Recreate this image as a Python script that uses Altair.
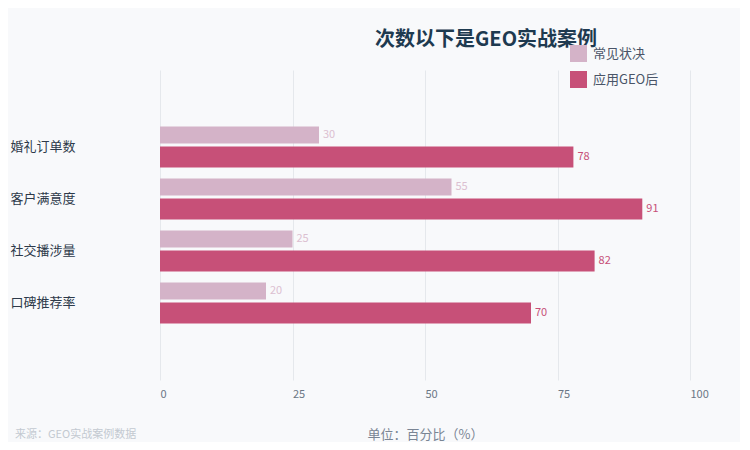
import altair as alt
import pandas as pd

categories = ["婚礼订单数", "客户满意度", "社交播涉量", "口碑推荐率"]
series_names = ["常见状决", "应用GEO后"]
common_values = [30, 55, 25, 20]
geo_values = [78, 91, 82, 70]
x_ticks = [0, 25, 50, 75, 100]
title_text = "次数以下是GEO实战案例"
axis_title = "单位：百分比（%）"
source_text = "来源：GEO实战案例数据"

rows = []
for c, a, b in zip(categories, common_values, geo_values):
    rows.append({"类别": c, "系列": series_names[0], "数值": a})
    rows.append({"类别": c, "系列": series_names[1], "数值": b})
df = pd.DataFrame(rows)

FONT = "Noto Sans CJK SC"
LIGHT = "#d4b3c8"
DARK = "#c75078"
BG = "#f8f9fb"

x = alt.X(
    "数值:Q",
    scale=alt.Scale(domain=[0, 100]),
    axis=alt.Axis(
        values=x_ticks,
        title=axis_title,
        titleFont=FONT,
        titleFontSize=13,
        titleFontWeight="normal",
        titleColor="#7a8594",
        titlePadding=29,
        labelFont=FONT,
        labelFontSize=11,
        labelColor="#6b7785",
        labelAlign="left",
        labelPadding=8,
        ticks=False,
        tickSize=0,
        domain=False,
        grid=True,
        gridColor="#e5e8ec",
        gridWidth=1,
    ),
)
y = alt.Y(
    "类别:N",
    sort=categories,
    scale=alt.Scale(paddingInner=0, paddingOuter=0.98),
    axis=alt.Axis(
        title=None,
        labelFont=FONT,
        labelFontSize=13,
        labelColor="#2d3a4a",
        labelAlign="left",
        labelPadding=150,
        ticks=False,
        tickSize=0,
        domain=False,
        grid=False,
    ),
)
color = alt.Color(
    "系列:N",
    scale=alt.Scale(domain=series_names, range=[LIGHT, DARK]),
    legend=alt.Legend(
        title=None,
        orient="none",
        legendX=410,
        legendY=-25,
        padding=0,
        symbolType="square",
        symbolSize=289,
        symbolStrokeWidth=0,
        symbolOpacity=1,
        labelFont=FONT,
        labelFontSize=13,
        labelColor="#4a5568",
        labelOffset=6,
        rowPadding=9,
    ),
)

base = alt.Chart(df)
light = base.transform_filter(alt.datum["系列"] == series_names[0])
dark = base.transform_filter(alt.datum["系列"] == series_names[1])

light_bar = light.mark_bar(size=17, yOffset=-12).encode(x=x, y=y, color=color)
dark_bar = dark.mark_bar(size=21, yOffset=10).encode(x=x, y=y, color=color)
light_txt = light.mark_text(
    align="left", baseline="middle", dx=4, yOffset=-12, font=FONT, fontSize=11, color="#dcc0d1"
).encode(x=x, y=y, text="数值:Q")
dark_txt = dark.mark_text(
    align="left", baseline="middle", dx=4, yOffset=10, font=FONT, fontSize=11, color=DARK
).encode(x=x, y=y, text="数值:Q")

src = alt.Chart(pd.DataFrame({"t": [source_text]})).mark_text(
    align="left", baseline="middle", font=FONT, fontSize=11, color="#c3c9d1"
).encode(x=alt.value(-145), y=alt.value(365), text="t:N")

ttl = alt.Chart(pd.DataFrame({"t": [title_text]})).mark_text(
    align="left", baseline="middle", font=FONT, fontSize=20, fontWeight="bold", color="#1e3a50"
).encode(x=alt.value(215), y=alt.value(-30), text="t:N")

chart = (
    alt.layer(light_bar, dark_bar, light_txt, dark_txt, src, ttl)
    .properties(
        width=530,
        height=310,
        autosize="none",
        padding={"left": 152, "top": 62, "right": 50, "bottom": 62},
        background=BG,
    )
    .configure_view(stroke=None)
)

chart.save("out.html", embed_options={"renderer": "svg", "actions": False})
